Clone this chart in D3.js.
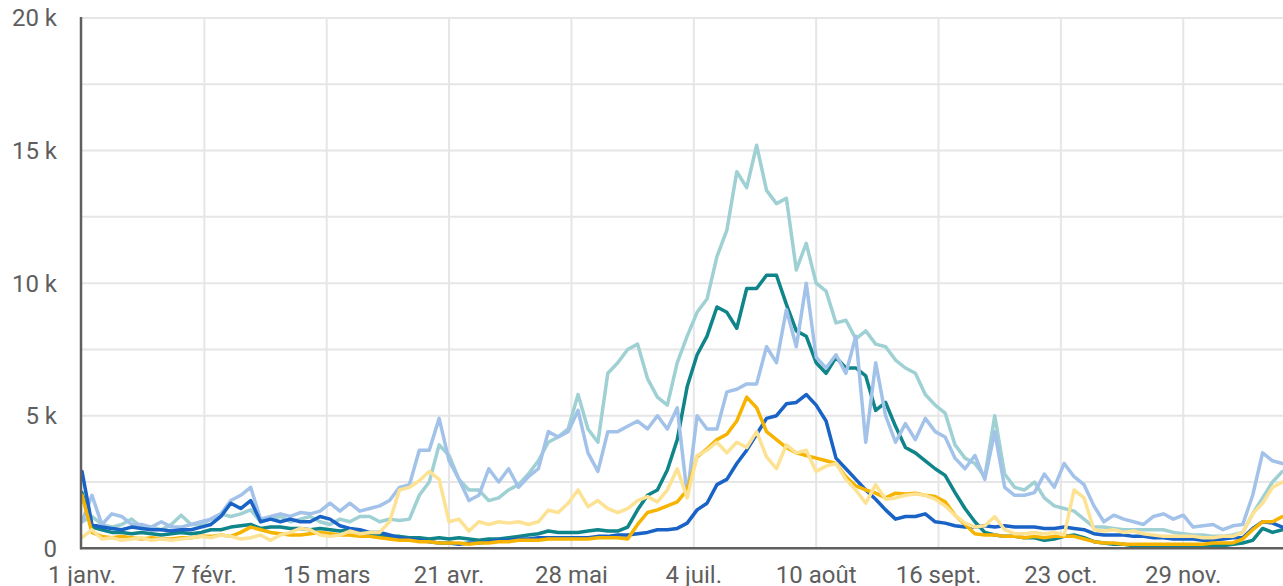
<!DOCTYPE html>
<html>
<head>
<meta charset="utf-8" />
<script src="https://d3js.org/d3.v7.min.js"></script>
<style>
  body { margin: 0; background: #fff; }
  .tick-label { font-family: Roboto, "Noto Sans", sans-serif; font-size: 24px; fill: #5e5e5e; }
  .grid { stroke: #e6e6e6; stroke-width: 2px; }
  .series { fill: none; stroke-width: 3.5px; stroke-linejoin: round; stroke-linecap: round; }
</style>
</head>
<body>
<script>
// one point every 3 days, starting 1 Jan (values in thousands)
var startDate = new Date(Date.UTC(2020, 0, 1));
var dayOffsets = d3.range(0, 364, 3);

var lightTeal = [
  1.0,1.2,0.9,0.8,0.9,1.1,0.8,0.8,0.7,0.9,
  1.25,0.9,0.9,1.1,1.3,1.2,1.3,1.45,1.0,1.1,
  1.2,1.0,1.1,1.2,1.0,0.9,1.1,1.0,1.2,1.2,
  1.0,1.1,1.05,1.1,2.0,2.5,3.9,3.5,2.6,2.2,
  2.2,1.8,1.9,2.2,2.4,2.8,3.3,4.0,4.2,4.5,
  5.8,4.5,4.0,6.6,7.0,7.5,7.7,6.4,5.7,5.4,
  7.0,8.0,8.9,9.4,11.0,12.0,14.2,13.6,15.2,13.5,
  13.0,13.2,10.5,11.5,10.0,9.7,8.5,8.6,7.9,8.2,
  7.7,7.6,7.1,6.8,6.6,5.8,5.4,5.1,3.9,3.4,
  3.2,2.7,5.0,2.8,2.3,2.2,2.5,1.9,1.6,1.5,
  1.4,1.1,0.8,0.8,0.75,0.7,0.7,0.7,0.7,0.7,
  0.6,0.55,0.5,0.5,0.45,0.45,0.5,0.6,1.3,1.9,
  2.5,2.9
];
var lightBlue = [
  1.0,2.0,0.9,1.3,1.2,0.9,0.9,0.8,1.0,0.8,
  0.8,0.9,1.0,1.1,1.3,1.8,2.0,2.3,1.1,1.2,
  1.3,1.2,1.35,1.3,1.4,1.7,1.4,1.7,1.4,1.5,
  1.6,1.8,2.3,2.4,3.7,3.7,4.9,3.3,2.6,1.8,
  2.0,3.0,2.5,3.0,2.3,2.7,3.0,4.4,4.2,4.4,
  5.2,3.6,2.9,4.4,4.4,4.6,4.8,4.5,5.0,4.5,
  5.3,2.0,5.0,4.5,4.5,5.9,6.0,6.2,6.2,7.6,
  7.0,9.0,7.6,10.0,7.2,6.8,7.3,6.6,8.0,4.0,
  7.0,5.0,4.0,4.7,4.1,4.9,4.4,4.2,3.4,3.0,
  3.5,2.6,4.4,2.3,2.0,2.0,2.1,2.8,2.3,3.2,
  2.7,2.4,1.6,1.0,1.25,1.1,1.0,0.9,1.2,1.3,
  1.1,1.25,0.8,0.85,0.9,0.7,0.85,0.9,2.0,3.6,
  3.3,3.2
];
var darkTeal = [
  2.1,0.8,0.7,0.6,0.6,0.55,0.6,0.55,0.5,0.55,
  0.6,0.55,0.6,0.7,0.7,0.8,0.85,0.9,0.75,0.8,
  0.8,0.75,0.75,0.7,0.75,0.7,0.65,0.7,0.6,0.55,
  0.5,0.45,0.45,0.4,0.4,0.35,0.4,0.35,0.4,0.35,
  0.3,0.35,0.35,0.4,0.45,0.5,0.55,0.65,0.6,0.6,
  0.6,0.65,0.7,0.65,0.65,0.8,1.45,2.0,2.2,2.95,
  4.1,6.1,7.3,8.0,9.1,8.9,8.3,9.8,9.8,10.3,
  10.3,9.2,8.2,8.0,7.0,6.6,7.2,6.8,6.8,6.5,
  5.2,5.5,4.6,3.8,3.6,3.3,3.0,2.75,2.1,1.5,
  1.0,0.6,0.5,0.45,0.45,0.4,0.4,0.3,0.35,0.45,
  0.5,0.4,0.25,0.2,0.15,0.15,0.1,0.1,0.12,0.1,
  0.1,0.12,0.1,0.1,0.12,0.1,0.15,0.2,0.3,0.75,
  0.6,0.7
];
var darkBlue = [
  2.9,0.9,0.8,0.75,0.7,0.8,0.75,0.7,0.7,0.65,
  0.7,0.7,0.8,0.9,1.2,1.7,1.5,1.8,1.0,1.1,
  1.0,1.1,1.0,1.0,1.2,1.1,0.85,0.75,0.7,0.6,
  0.6,0.5,0.4,0.35,0.3,0.25,0.2,0.2,0.15,0.2,
  0.2,0.25,0.3,0.3,0.35,0.35,0.4,0.4,0.4,0.4,
  0.4,0.4,0.45,0.45,0.5,0.5,0.55,0.6,0.7,0.7,
  0.75,0.95,1.45,1.7,2.4,2.6,3.2,3.7,4.3,4.9,
  5.0,5.45,5.5,5.8,5.4,4.8,3.4,3.0,2.6,2.2,
  1.85,1.45,1.1,1.2,1.2,1.3,1.0,0.95,0.85,0.8,
  0.8,0.85,0.8,0.85,0.8,0.8,0.8,0.75,0.75,0.8,
  0.75,0.7,0.55,0.5,0.5,0.5,0.45,0.45,0.4,0.4,
  0.35,0.35,0.35,0.3,0.3,0.35,0.4,0.4,0.75,1.0,
  0.95,0.8
];
var gold = [
  2.0,0.6,0.45,0.4,0.45,0.4,0.35,0.4,0.35,0.35,
  0.4,0.4,0.45,0.45,0.5,0.45,0.6,0.8,0.7,0.6,
  0.55,0.5,0.5,0.55,0.6,0.55,0.5,0.5,0.45,0.45,
  0.4,0.35,0.3,0.3,0.25,0.25,0.2,0.2,0.2,0.15,
  0.2,0.2,0.25,0.25,0.3,0.3,0.3,0.35,0.35,0.35,
  0.35,0.35,0.4,0.4,0.4,0.35,0.9,1.35,1.45,1.6,
  1.75,2.2,3.45,3.75,4.1,4.3,4.8,5.7,5.3,4.4,
  4.1,3.8,3.6,3.5,3.4,3.3,3.2,2.7,2.35,2.2,
  2.08,1.9,2.08,2.05,2.08,2.0,1.95,1.75,1.25,0.9,
  0.55,0.5,0.5,0.45,0.45,0.4,0.45,0.4,0.45,0.45,
  0.45,0.35,0.25,0.2,0.2,0.15,0.15,0.15,0.15,0.15,
  0.15,0.15,0.15,0.15,0.2,0.2,0.2,0.35,0.7,1.0,
  1.0,1.2
];
var lightYellow = [
  0.4,0.7,0.35,0.4,0.3,0.35,0.4,0.3,0.35,0.3,
  0.35,0.4,0.45,0.4,0.5,0.45,0.35,0.4,0.5,0.3,
  0.5,0.6,0.75,0.7,0.5,0.45,0.5,0.65,0.55,0.6,
  0.6,1.0,2.2,2.3,2.55,2.9,2.6,1.0,1.1,0.65,
  1.0,0.9,1.0,0.95,1.0,0.9,1.0,1.44,1.35,1.7,
  2.2,1.57,1.8,1.5,1.35,1.5,1.8,1.95,1.75,2.2,
  3.0,1.9,3.5,3.7,4.0,3.6,4.0,3.8,4.4,3.45,
  3.0,3.9,3.6,3.7,2.9,3.1,3.2,2.6,2.2,1.7,
  2.4,1.85,1.9,2.0,2.05,2.0,1.85,1.6,1.25,0.95,
  0.8,0.85,1.2,0.7,0.55,0.55,0.6,0.55,0.6,0.5,
  2.2,1.9,0.7,0.65,0.7,0.6,0.65,0.55,0.5,0.45,
  0.45,0.45,0.45,0.4,0.4,0.45,0.45,0.6,1.3,1.7,
  2.3,2.5
];

// x tick labels (every 37 days)
var xTickLabels = ["1 janv.", "7 févr.", "15 mars", "21 avr.", "28 mai", "4 juil.", "10 août", "16 sept.", "23 oct.", "29 nov."];
var xTickOffsets = [0, 37, 74, 111, 148, 185, 222, 259, 296, 333];
var yTickValues = [0, 5, 10, 15, 20];
var yTickLabels = ["0", "5 k", "10 k", "15 k", "20 k"];
var yGridValues = [2.5, 5, 7.5, 10, 12.5, 15, 17.5, 20];

var width = 1283, height = 586;
var plotLeft = 82, plotBottom = 548.3, plotTop = 18;

var dates = dayOffsets.map(function(d) { return d3.utcDay.offset(startDate, d); });
var xTicks = xTickOffsets.map(function(d) { return d3.utcDay.offset(startDate, d); });

var x = d3.scaleUtc()
    .domain([startDate, d3.utcDay.offset(startDate, 365)])
    .range([plotLeft, plotLeft + 365 * 3.307]);
var y = d3.scaleLinear().domain([0, 20]).range([plotBottom, plotTop]);

var svg = d3.select("body").append("svg")
    .attr("width", width)
    .attr("height", height);

// gridlines
svg.append("g").selectAll("line")
    .data(yGridValues)
  .enter().append("line")
    .attr("class", "grid")
    .attr("x1", plotLeft).attr("x2", width)
    .attr("y1", function(d) { return y(d); })
    .attr("y2", function(d) { return y(d); });

svg.append("g").selectAll("line")
    .data(xTicks.slice(1))
  .enter().append("line")
    .attr("class", "grid")
    .attr("x1", function(d) { return x(d); })
    .attr("x2", function(d) { return x(d); })
    .attr("y1", plotTop).attr("y2", plotBottom);

// series, drawn back to front
var series = [
  { values: lightTeal, color: "#9fd0d3" },
  { values: darkTeal, color: "#0f8489" },
  { values: lightBlue, color: "#a3c2ea" },
  { values: darkBlue, color: "#1a63c6" },
  { values: gold, color: "#f6b400" },
  { values: lightYellow, color: "#fde293" }
];

var line = d3.line()
    .x(function(d, i) { return x(dates[i]); })
    .y(function(d) { return y(d); });

svg.append("g").selectAll("path")
    .data(series)
  .enter().append("path")
    .attr("class", "series")
    .style("stroke", function(d) { return d.color; })
    .attr("d", function(d) { return line(d.values); });

// axis lines
svg.append("line")
    .attr("x1", plotLeft - 1).attr("x2", plotLeft - 1)
    .attr("y1", plotTop - 1).attr("y2", plotBottom + 1)
    .style("stroke", "#5f5f5f").style("stroke-width", 2.5);
svg.append("line")
    .attr("x1", plotLeft - 2).attr("x2", width)
    .attr("y1", plotBottom).attr("y2", plotBottom)
    .style("stroke", "#5f5f5f").style("stroke-width", 2.5);

// y labels
svg.append("g").selectAll("text")
    .data(yTickValues)
  .enter().append("text")
    .attr("class", "tick-label")
    .attr("x", 57)
    .attr("y", function(d) { return y(d); })
    .attr("dy", "0.35em")
    .style("text-anchor", "end")
    .text(function(d, i) { return yTickLabels[i]; });

// x labels
svg.append("g").selectAll("text")
    .data(xTicks)
  .enter().append("text")
    .attr("class", "tick-label")
    .attr("x", function(d) { return x(d); })
    .attr("y", 583)
    .style("text-anchor", "middle")
    .text(function(d, i) { return xTickLabels[i]; });
</script>
</body>
</html>
